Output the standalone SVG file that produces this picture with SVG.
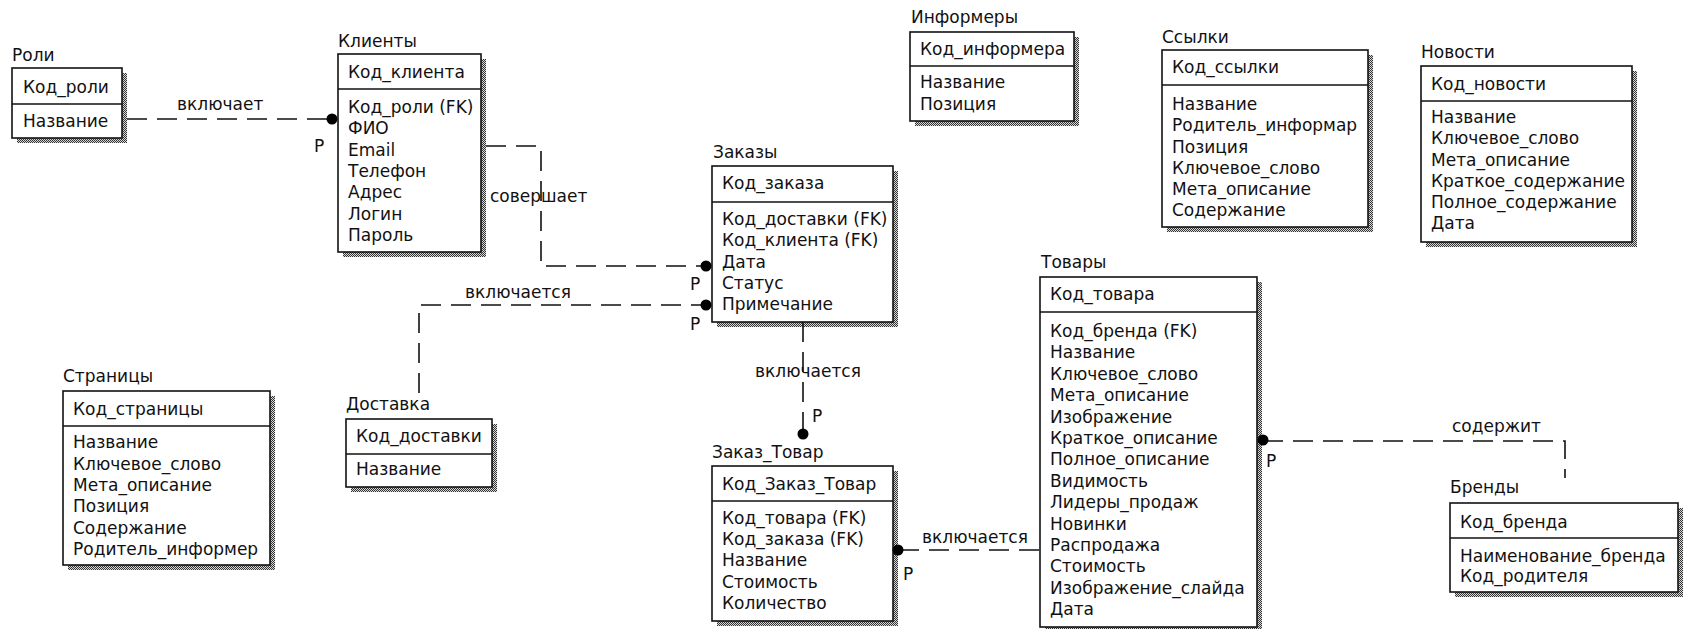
<svg xmlns="http://www.w3.org/2000/svg" width="1686" height="629" viewBox="0 0 1686 629">
  <defs>
    <!-- dithered drop shadow used under every entity box -->
    <pattern id="dither" width="2" height="2" patternUnits="userSpaceOnUse">
      <rect width="2" height="2" fill="#d8d8d8"/>
      <rect x="0" y="0" width="1" height="1" fill="#333"/>
      <rect x="1" y="1" width="1" height="1" fill="#333"/>
    </pattern>
  </defs>
  <style>
    text { font-family: "DejaVu Sans", Verdana, sans-serif; font-size: 17px; fill: #111; }
    .box { fill: #fff; stroke: #111; stroke-width: 1.6; }
    .sep { stroke: #111; stroke-width: 1.4; }
    .shadow { fill: url(#dither); }
    .rel { fill: none; stroke: #111; stroke-width: 1.6; stroke-dasharray: 20 10; }
    .dot { fill: #000; }
  </style>
  <rect width="1686" height="629" fill="#fff"/>

  <!-- Роли -->
  <g id="roles">
    <text x="12" y="61">Роли</text>
    <path class="shadow" d="M122,73 h5 v70 h-110 v-5 h105 z"/>
    <rect class="box" x="12" y="68" width="110" height="70"/>
    <line class="sep" x1="12" y1="104" x2="122" y2="104"/>
    <text x="23" y="93">Код_роли</text>
    <text x="23" y="127">Название</text>
  </g>

  <!-- Клиенты -->
  <g id="clients">
    <text x="338" y="47">Клиенты</text>
    <path class="shadow" d="M481,59 h5 v198 h-143 v-5 h138 z"/>
    <rect class="box" x="338" y="54" width="143" height="198"/>
    <line class="sep" x1="338" y1="89" x2="481" y2="89"/>
    <text x="348" y="78">Код_клиента</text>
    <text x="348" y="113">Код_роли (FK)</text>
    <text x="348" y="134">ФИО</text>
    <text x="348" y="156">Email</text>
    <text x="348" y="177">Телефон</text>
    <text x="348" y="198">Адрес</text>
    <text x="348" y="220">Логин</text>
    <text x="348" y="241">Пароль</text>
  </g>

  <!-- Заказы -->
  <g id="orders">
    <text x="713" y="158">Заказы</text>
    <path class="shadow" d="M893,171 h5 v156 h-181 v-5 h176 z"/>
    <rect class="box" x="712" y="166" width="181" height="156"/>
    <line class="sep" x1="712" y1="202" x2="893" y2="202"/>
    <text x="722" y="189">Код_заказа</text>
    <text x="722" y="225">Код_доставки (FK)</text>
    <text x="722" y="246">Код_клиента (FK)</text>
    <text x="722" y="268">Дата</text>
    <text x="722" y="289">Статус</text>
    <text x="722" y="310">Примечание</text>
  </g>

  <!-- Доставка -->
  <g id="delivery">
    <text x="346" y="410">Доставка</text>
    <path class="shadow" d="M492,424 h5 v68 h-146 v-5 h141 z"/>
    <rect class="box" x="346" y="419" width="146" height="68"/>
    <line class="sep" x1="346" y1="454" x2="492" y2="454"/>
    <text x="356" y="442">Код_доставки</text>
    <text x="356" y="475">Название</text>
  </g>

  <!-- Страницы -->
  <g id="pages">
    <text x="63" y="382">Страницы</text>
    <path class="shadow" d="M270,396 h5 v174 h-207 v-5 h202 z"/>
    <rect class="box" x="63" y="391" width="207" height="174"/>
    <line class="sep" x1="63" y1="426" x2="270" y2="426"/>
    <text x="73" y="415">Код_страницы</text>
    <text x="73" y="448">Название</text>
    <text x="73" y="470">Ключевое_слово</text>
    <text x="73" y="491">Мета_описание</text>
    <text x="73" y="512">Позиция</text>
    <text x="73" y="534">Содержание</text>
    <text x="73" y="555">Родитель_информер</text>
  </g>

  <!-- Информеры -->
  <g id="informers">
    <text x="911" y="23">Информеры</text>
    <path class="shadow" d="M1074,37 h5 v89 h-164 v-5 h159 z"/>
    <rect class="box" x="910" y="32" width="164" height="89"/>
    <line class="sep" x1="910" y1="66" x2="1074" y2="66"/>
    <text x="920" y="55">Код_информера</text>
    <text x="920" y="88">Название</text>
    <text x="920" y="110">Позиция</text>
  </g>

  <!-- Ссылки -->
  <g id="links">
    <text x="1162" y="43">Ссылки</text>
    <path class="shadow" d="M1368,55 h5 v177 h-206 v-5 h201 z"/>
    <rect class="box" x="1162" y="50" width="206" height="177"/>
    <line class="sep" x1="1162" y1="85" x2="1368" y2="85"/>
    <text x="1172" y="73">Код_ссылки</text>
    <text x="1172" y="110">Название</text>
    <text x="1172" y="131">Родитель_информар</text>
    <text x="1172" y="153">Позиция</text>
    <text x="1172" y="174">Ключевое_слово</text>
    <text x="1172" y="195">Мета_описание</text>
    <text x="1172" y="216">Содержание</text>
  </g>

  <!-- Новости -->
  <g id="news">
    <text x="1421" y="58">Новости</text>
    <path class="shadow" d="M1632,71 h5 v176 h-211 v-5 h206 z"/>
    <rect class="box" x="1421" y="66" width="211" height="176"/>
    <line class="sep" x1="1421" y1="101" x2="1632" y2="101"/>
    <text x="1431" y="90">Код_новости</text>
    <text x="1431" y="123">Название</text>
    <text x="1431" y="144">Ключевое_слово</text>
    <text x="1431" y="166">Мета_описание</text>
    <text x="1431" y="187">Краткое_содержание</text>
    <text x="1431" y="208">Полное_содержание</text>
    <text x="1431" y="229">Дата</text>
  </g>

  <!-- Товары -->
  <g id="products">
    <text x="1041" y="268">Товары</text>
    <path class="shadow" d="M1257,282 h5 v350 h-217 v-5 h212 z"/>
    <rect class="box" x="1040" y="277" width="217" height="350"/>
    <line class="sep" x1="1040" y1="312" x2="1257" y2="312"/>
    <text x="1050" y="300">Код_товара</text>
    <text x="1050" y="337">Код_бренда (FK)</text>
    <text x="1050" y="358">Название</text>
    <text x="1050" y="380">Ключевое_слово</text>
    <text x="1050" y="401">Мета_описание</text>
    <text x="1050" y="423">Изображение</text>
    <text x="1050" y="444">Краткое_описание</text>
    <text x="1050" y="465">Полное_описание</text>
    <text x="1050" y="487">Видимость</text>
    <text x="1050" y="508">Лидеры_продаж</text>
    <text x="1050" y="530">Новинки</text>
    <text x="1050" y="551">Распродажа</text>
    <text x="1050" y="572">Стоимость</text>
    <text x="1050" y="594">Изображение_слайда</text>
    <text x="1050" y="615">Дата</text>
  </g>

  <!-- Заказ_Товар -->
  <g id="order-product">
    <text x="712" y="458">Заказ_Товар</text>
    <path class="shadow" d="M893,471 h5 v155 h-181 v-5 h176 z"/>
    <rect class="box" x="712" y="466" width="181" height="155"/>
    <line class="sep" x1="712" y1="501" x2="893" y2="501"/>
    <text x="722" y="490">Код_Заказ_Товар</text>
    <text x="722" y="524">Код_товара (FK)</text>
    <text x="722" y="545">Код_заказа (FK)</text>
    <text x="722" y="566">Название</text>
    <text x="722" y="588">Стоимость</text>
    <text x="722" y="609">Количество</text>
  </g>

  <!-- Бренды -->
  <g id="brands">
    <text x="1450" y="493">Бренды</text>
    <path class="shadow" d="M1678,508 h5 v89 h-228 v-5 h223 z"/>
    <rect class="box" x="1450" y="503" width="228" height="89"/>
    <line class="sep" x1="1450" y1="538" x2="1678" y2="538"/>
    <text x="1460" y="528">Код_бренда</text>
    <text x="1460" y="562">Наименование_бренда</text>
    <text x="1460" y="582">Код_родителя</text>
  </g>

  <!-- relationships -->
  <g id="connectors">
    <!-- Роли включает Клиенты -->
    <path class="rel" d="M127,119 H332"/>
    <circle class="dot" cx="332" cy="119" r="5.5"/>
    <text x="177" y="110">включает</text>
    <text x="314" y="152">P</text>

    <!-- Клиенты совершает Заказы -->
    <path class="rel" d="M486,146 H541 V266 H705"/>
    <circle class="dot" cx="706" cy="266" r="5.5"/>
    <text x="490" y="202">совершает</text>
    <text x="690" y="290">P</text>

    <!-- Доставка включается в Заказы -->
    <path class="rel" d="M419,393 V305 H705"/>
    <circle class="dot" cx="706" cy="305" r="5.5"/>
    <text x="465" y="298">включается</text>
    <text x="690" y="330">P</text>

    <!-- Заказы включается в Заказ_Товар -->
    <path class="rel" d="M803,322 V433"/>
    <circle class="dot" cx="803" cy="434" r="5.5"/>
    <text x="755" y="377">включается</text>
    <text x="812" y="422">P</text>

    <!-- Товары включается в Заказ_Товар -->
    <path class="rel" d="M899,550 H1040"/>
    <circle class="dot" cx="898" cy="550" r="5.5"/>
    <text x="922" y="543">включается</text>
    <text x="903" y="580">P</text>

    <!-- Бренды содержит Товары -->
    <path class="rel" d="M1263,441 H1565 V478"/>
    <circle class="dot" cx="1263" cy="440" r="5.5"/>
    <text x="1452" y="432">содержит</text>
    <text x="1266" y="467">P</text>
  </g>
</svg>
